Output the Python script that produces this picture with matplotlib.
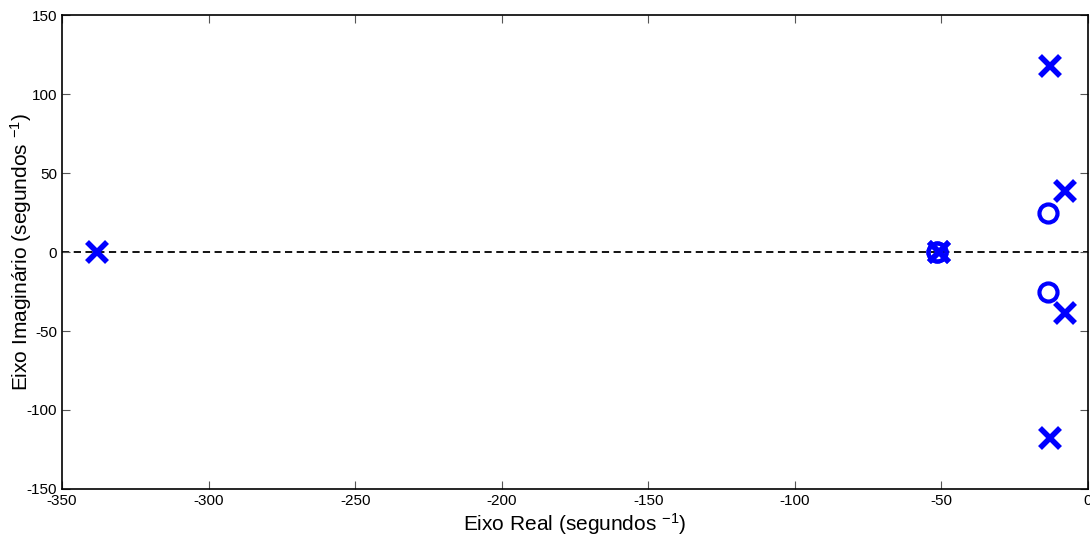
import numpy as np
import matplotlib as mpl
mpl.use('Agg')
import matplotlib.pyplot as plt

# Poles (x) and zeros (o)
pole_re = [-338, -51, -51, -13, -13, -8, -8]
pole_im = [0, 0, 0, 118, -118, 38.5, -38.5]
zero_re = [-51.5, -51.5, -13.5, -13.5]
zero_im = [0, 0, 25, -25]

mpl.rcParams.update({
    'font.family': 'Liberation Sans',
    'mathtext.fontset': 'custom',
    'mathtext.rm': 'Liberation Sans',
    'mathtext.it': 'Liberation Sans',
    'axes.unicode_minus': False,
})

fig = plt.figure(figsize=(10.9, 5.37), dpi=100)
ax = fig.add_axes([0.0569, 0.0894, 0.9413, 0.8826])

ax.axhline(0, color='k', linestyle='--', linewidth=1.3, dashes=(4, 2.5), zorder=1)
ax.plot(pole_re, pole_im, linestyle='none', marker='x', color='#0000ff',
        markersize=15, markeredgewidth=4, zorder=3)
ax.plot(zero_re, zero_im, linestyle='none', marker='o', markerfacecolor='none',
        markeredgecolor='#0000ff', markersize=13, markeredgewidth=3, zorder=3)

ax.set_xlim(-350, 0)
ax.set_ylim(-150, 150)
ax.set_xticks(np.arange(-350, 1, 50))
ax.set_yticks(np.arange(-150, 151, 50))
ax.tick_params(direction='in', top=True, right=True, labelsize=11, length=6, width=0.8, color='#555555')
for s in ax.spines.values():
    s.set_linewidth(1.2)

ax.set_xlabel('Eixo Real (segundos $^{-1}$)', fontsize=15, labelpad=2)
ax.set_ylabel('Eixo Imaginário (segundos $^{-1}$)', fontsize=15)
ax.yaxis.set_label_coords(-0.027, 0.5)

plt.savefig('out.png', dpi=100)
